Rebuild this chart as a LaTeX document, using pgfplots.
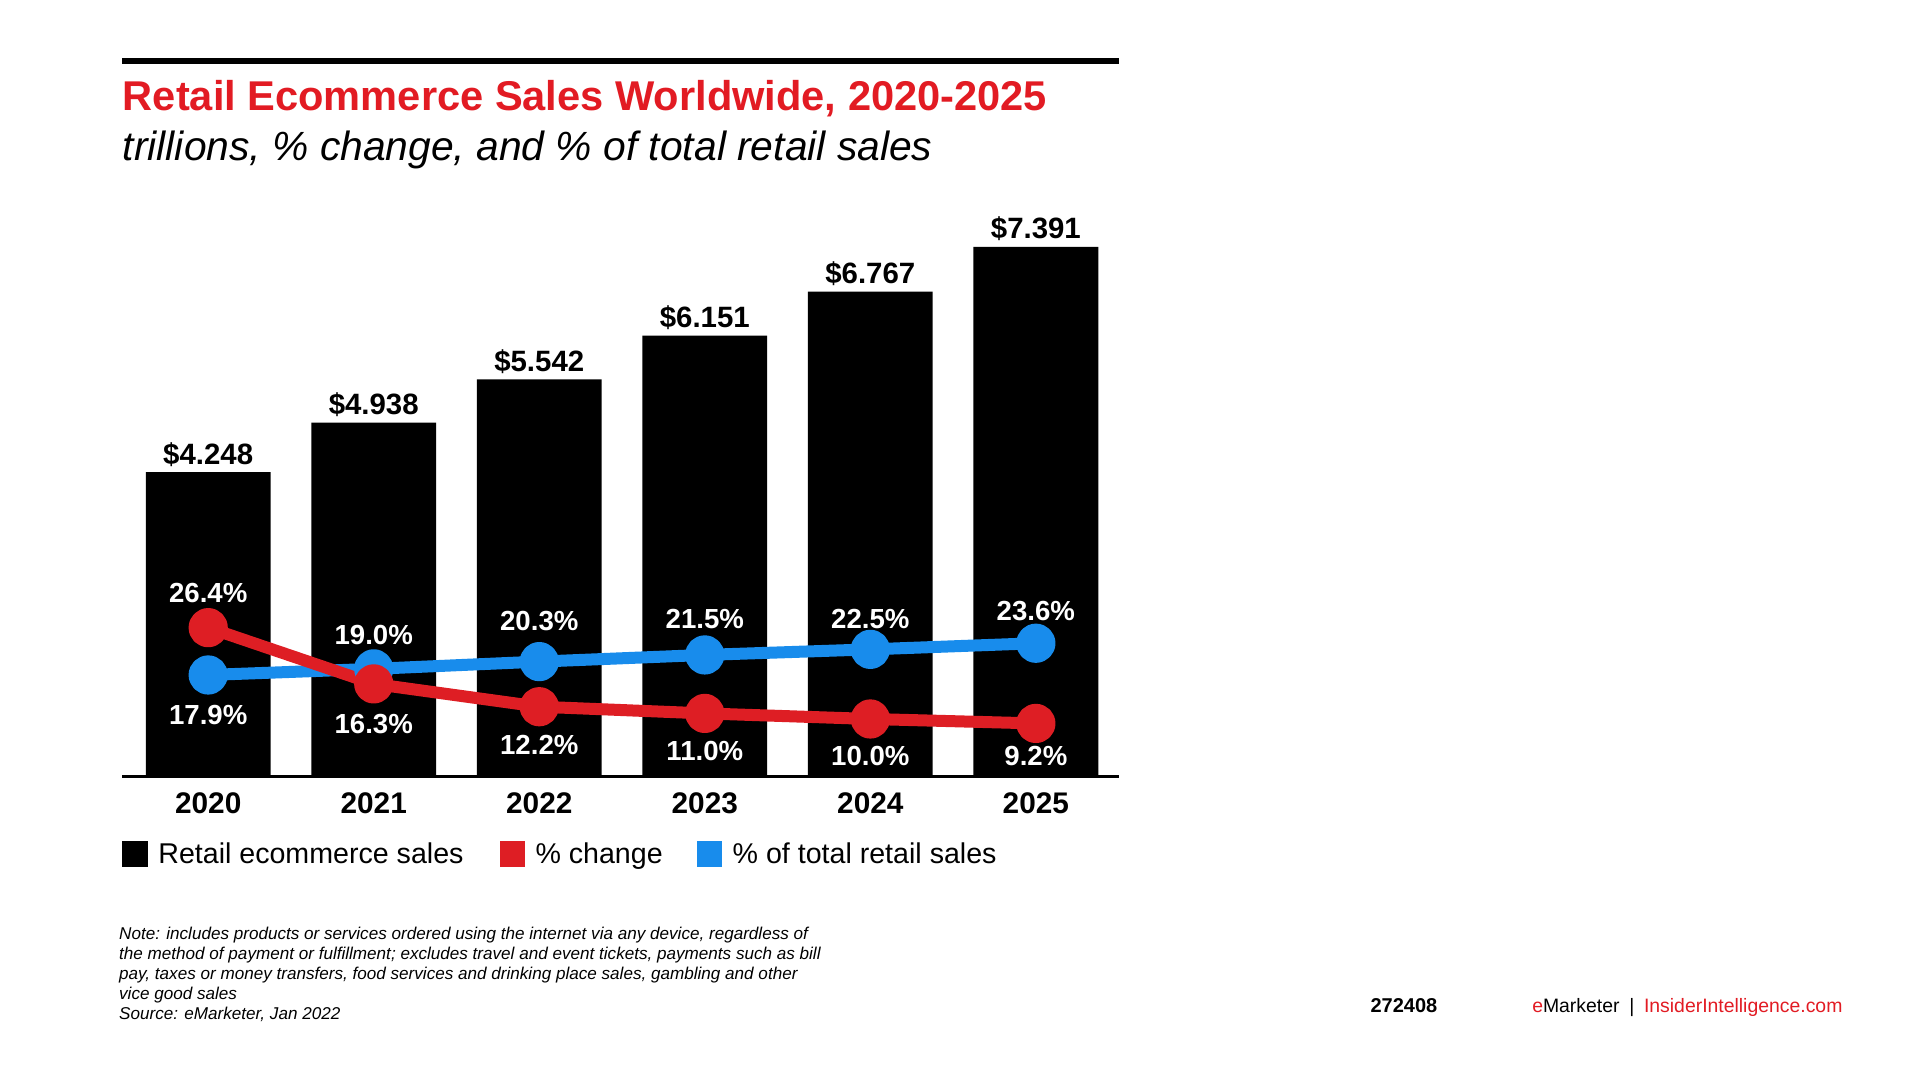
\documentclass[border=0pt]{standalone}
\usepackage{pgfplots}
\pgfplotsset{compat=1.18}
\usepackage{fontspec}
\setmainfont{Liberation Sans}
\definecolor{emred}{RGB}{226,27,35}
\definecolor{lred}{RGB}{222,30,36}
\definecolor{lblue}{RGB}{24,140,236}
\pgfplotsset{/pgf/number format/assume math mode=true}
\pgfplotstableread{
x y
0 4.248
1 4.938
2 5.542
3 6.151
4 6.767
5 7.391
}\sales
\pgfplotstableread{
x y dy
0 17.9 -20.2
1 19.0 17.1
2 20.3 20.2
3 21.5 17.8
4 22.5 15.3
5 23.6 15.9
}\share
\pgfplotstableread{
x y dy
0 26.4 17.1
1 16.3 -20.2
2 12.2 -19.0
3 11.0 -19.0
4 10.0 -18.4
5 9.2 -16.5
}\change
\begin{document}
\begin{tikzpicture}
\begin{scope}[x=0.6122pt,y=-0.6122pt]
\path[use as bounding box] (0,0) rectangle (1568,882);
\fill[white] (0,0) rectangle (1568,882);
\fill[black] (100,47.5) rectangle (914,52.5);
\node[anchor=base west, inner sep=0, text=emred, font=\fontsize{20.8}{25}\selectfont\bfseries] at (100,90) {Retail Ecommerce Sales Worldwide, 2020-2025};
\node[anchor=base west, inner sep=0, font=\fontsize{20.4}{25}\selectfont\itshape] at (100,131) {trillions, \% change, and \% of total retail sales};
\fill[black] (100,687) rectangle (121,708);
\node[anchor=base west, inner sep=0, font=\fontsize{14.3}{17}\selectfont] at (129,705) {Retail ecommerce sales};
\fill[lred] (408,687) rectangle (429,708);
\node[anchor=base west, inner sep=0, font=\fontsize{14.3}{17}\selectfont] at (437,705) {\% change};
\fill[lblue] (569,687) rectangle (590,708);
\node[anchor=base west, inner sep=0, font=\fontsize{14.3}{17}\selectfont] at (598,705) {\% of total retail sales};
\node[anchor=north west, inner sep=0, align=left, font=\fontsize{8.55}{10}\selectfont\itshape] at (97,756.5) {Note: includes products or services ordered using the internet via any device, regardless of\\the method of payment or fulfillment; excludes travel and event tickets, payments such as bill\\pay, taxes or money transfers, food services and drinking place sales, gambling and other\\vice good sales\\Source: eMarketer, Jan 2022};
\node[anchor=base west, inner sep=0, font=\fontsize{10}{12}\selectfont\bfseries] at (1119,827) {272408};
\node[anchor=base west, inner sep=0, font=\fontsize{9.7}{12}\selectfont] at (1251,827) {\textcolor{emred}{e}Marketer\enspace|\enspace\textcolor{emred}{InsiderIntelligence.com}};
\end{scope}
\begin{axis}[
  at={({100*0.6122pt},{-634*0.6122pt})}, anchor=south west,
  scale only axis, width=498.3pt, height=286.5pt,
  xmin=-0.518, xmax=5.503, ymin=0, ymax=8,
  axis x line*=bottom, axis y line=none,
  x axis line style={-, line width=1.2pt},
  xtick={0,1,2,3,4,5}, xticklabels={2020,2021,2022,2023,2024,2025},
  major tick length=0pt, ytick=\empty,
  xticklabel style={font=\fontsize{14.9}{18}\selectfont\bfseries, anchor=base, yshift=-18.4pt, inner sep=0pt},
  clip=false,
]
\addplot[ybar, bar width=62.4pt, fill=black, draw=none,
  nodes near coords={\$\pgfmathprintnumber[fixed,precision=3,fixed zerofill]{\pgfplotspointmeta}},
  every node near coord/.append style={anchor=base, yshift=4pt, inner sep=0pt, font=\fontsize{14.7}{17}\selectfont\bfseries, text=black}]
  table[x=x,y=y] {\sales};
\end{axis}
\begin{axis}[
  at={({100*0.6122pt},{-634*0.6122pt})}, anchor=south west,
  scale only axis, width=498.3pt, height=286.5pt,
  xmin=-0.518, xmax=5.503, ymin=-0.3, ymax=102.6,
  hide axis, clip=false,
]
\addplot[color=lblue, line width=6pt, line join=round, mark=*, mark size=6.8pt,
  mark options={fill=lblue, draw=none},
  visualization depends on={\thisrow{dy} \as \dy},
  nodes near coords={\pgfmathprintnumber[fixed,precision=1,fixed zerofill]{\pgfplotspointmeta}\%},
  every node near coord/.append style={anchor=center, yshift=\dy pt, inner sep=0pt, font=\fontsize{13.8}{16}\selectfont\bfseries, text=white}]
  table[x=x,y=y] {\share};
\addplot[color=lred, line width=6pt, line join=round, mark=*, mark size=6.8pt,
  mark options={fill=lred, draw=none},
  visualization depends on={\thisrow{dy} \as \dy},
  nodes near coords={\pgfmathprintnumber[fixed,precision=1,fixed zerofill]{\pgfplotspointmeta}\%},
  every node near coord/.append style={anchor=center, yshift=\dy pt, inner sep=0pt, font=\fontsize{13.8}{16}\selectfont\bfseries, text=white}]
  table[x=x,y=y] {\change};
\end{axis}
\end{tikzpicture}
\end{document}
